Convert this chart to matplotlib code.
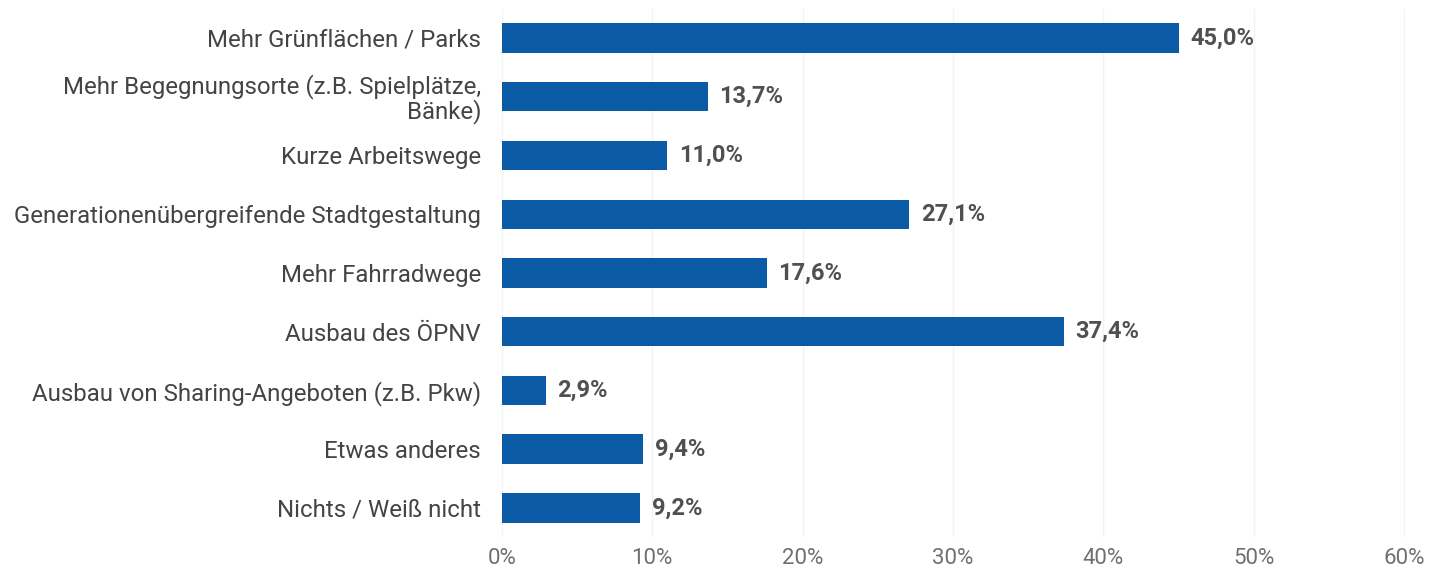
import matplotlib.pyplot as plt
from matplotlib.ticker import FuncFormatter

plt.rcParams['font.family'] = ['Roboto', 'DejaVu Sans']

categories = [
    "Mehr Grünflächen / Parks",
    "Mehr Begegnungsorte (z.B. Spielplätze,\nBänke)",
    "Kurze Arbeitswege",
    "Generationenübergreifende Stadtgestaltung",
    "Mehr Fahrradwege",
    "Ausbau des ÖPNV",
    "Ausbau von Sharing-Angeboten (z.B. Pkw)",
    "Etwas anderes",
    "Nichts / Weiß nicht",
]
values = [45.0, 13.7, 11.0, 27.1, 17.6, 37.4, 2.9, 9.4, 9.2]
xticks = [0, 10, 20, 30, 40, 50, 60]

fig = plt.figure(figsize=(14.3, 5.71), dpi=100)
ax = fig.add_axes([0.351, 0.059, 0.6315, 0.926])

y = list(range(len(categories)))
ax.barh(y, values, height=0.5, color='#0b5aa6', zorder=3)
for yi, v in zip(y, values):
    ax.text(v + 0.75, yi, f"{v:.1f}%".replace('.', ','), va='center', ha='left',
            fontsize=17, fontweight='bold', color='#505050')

ax.set_ylim(len(categories) - 0.5, -0.5)
ax.set_xlim(0, 60.05)
ax.set_xticks(xticks)
ax.xaxis.set_major_formatter(FuncFormatter(lambda x, p: f"{int(x)}%"))
ax.set_yticks(y)
ax.set_yticklabels(categories, fontsize=17.3, color='#444444', linespacing=1.0)
ax.tick_params(axis='x', labelsize=16, labelcolor='#707070', length=0, pad=8)
ax.tick_params(axis='y', length=0, pad=15)
ax.grid(axis='x', color='#f3f3f3', linewidth=1, zorder=0)
for s in ax.spines.values():
    s.set_visible(False)

fig.savefig('out.png', dpi=100)
